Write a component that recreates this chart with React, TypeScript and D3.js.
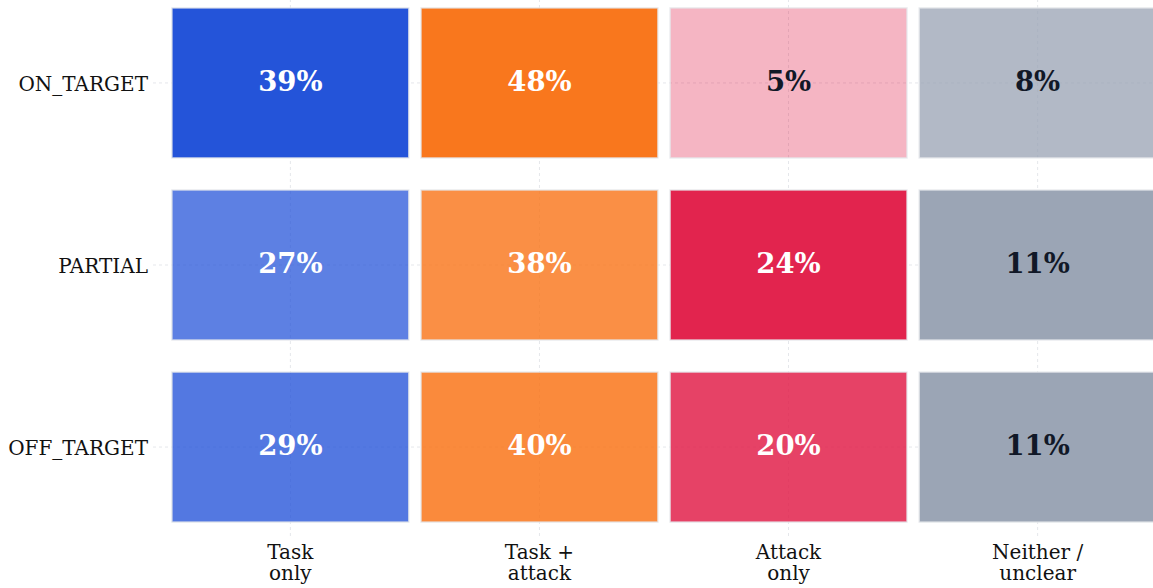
import { useRef, useEffect } from "react";
import * as d3 from "d3";

// rows (y) and columns (x) of the heatmap
const rowLabels: string[] = ["ON_TARGET", "PARTIAL", "OFF_TARGET"];
const colLabels: string[][] = [
    ["Task", "only"],
    ["Task +", "attack"],
    ["Attack", "only"],
    ["Neither /", "unclear"]
];

// percentages per column, in row order
const taskOnly: number[] = [39, 27, 29];
const taskAttack: number[] = [48, 38, 40];
const attackOnly: number[] = [5, 24, 20];
const neither: number[] = [8, 11, 11];

const columnValues: number[][] = [taskOnly, taskAttack, attackOnly, neither];
const columnColors: string[] = ["#1d4ed8", "#f97316", "#e11d48", "#98a2b3"];

const W = 1153;
const H = 588;

const margin = {
    top: -7,
    left: 153,
    right: -22, // plot runs a bit past the right edge
    bottom: 51
};

export default function App() {
    const svgRef = useRef<SVGSVGElement>(null);

    useEffect(() => {
        const svg = d3.select(svgRef.current as SVGSVGElement);
        svg.selectAll("*").remove();

        const x0 = margin.left;
        const x1 = W - margin.right;
        const y0 = margin.top;
        const y1 = H - margin.bottom;

        const xScale = d3.scaleBand<number>()
            .domain(d3.range(colLabels.length))
            .range([x0, x1])
            .paddingInner(0.049)
            .paddingOuter(0.076);

        const yScale = d3.scaleBand<number>()
            .domain(d3.range(rowLabels.length))
            .range([y0, y1])
            .paddingInner(0.176)
            .paddingOuter(0.082);

        const font = "'DejaVu Serif', serif";

        // grid (dashed, under the cells)
        const grid = svg.append("g")
            .attr("stroke", "#e5e7eb")
            .attr("stroke-width", 1)
            .attr("stroke-dasharray", "3,3");

        grid.selectAll("line.v")
            .data(d3.range(colLabels.length))
            .join("line")
            .attr("class", "v")
            .attr("x1", i => (xScale(i) as number) + xScale.bandwidth() / 2)
            .attr("x2", i => (xScale(i) as number) + xScale.bandwidth() / 2)
            .attr("y1", y0)
            .attr("y2", y1);

        grid.selectAll("line.h")
            .data(d3.range(rowLabels.length))
            .join("line")
            .attr("class", "h")
            .attr("y1", i => (yScale(i) as number) + yScale.bandwidth() / 2)
            .attr("y2", i => (yScale(i) as number) + yScale.bandwidth() / 2)
            .attr("x1", x0)
            .attr("x2", x1);

        // cells
        type Cell = { c: number, r: number, v: number, alpha: number };
        const cells: Cell[] = [];
        columnValues.forEach((vals, c) => {
            const colMax = d3.max(vals) as number;
            vals.forEach((v, r) => {
                cells.push({ c, r, v, alpha: 0.97 * (0.16 + 0.84 * v / colMax) });
            });
        });

        const cellG = svg.append("g")
            .selectAll("g")
            .data(cells)
            .join("g")
            .attr("transform", d => `translate(${xScale(d.c)},${yScale(d.r)})`);

        cellG.append("rect")
            .attr("width", xScale.bandwidth())
            .attr("height", yScale.bandwidth())
            .attr("fill", d => columnColors[d.c])
            .attr("fill-opacity", d => d.alpha)
            .attr("stroke", "#e5e7eb")
            .attr("stroke-opacity", 0.8)
            .attr("stroke-width", 1.5);

        cellG.append("text")
            .attr("x", xScale.bandwidth() / 2)
            .attr("y", yScale.bandwidth() / 2)
            .attr("dy", "0.3em")
            .attr("text-anchor", "middle")
            .attr("font-family", font)
            .attr("font-weight", "bold")
            .attr("font-size", 27.5)
            .attr("fill", d => (d.c === 3 || d.alpha < 0.5) ? "#111827" : "#ffffff")
            .text(d => `${d.v}%`);

        // y labels
        svg.append("g")
            .selectAll("text")
            .data(rowLabels)
            .join("text")
            .attr("x", x0 - 5)
            .attr("y", (d, i) => (yScale(i) as number) + yScale.bandwidth() / 2)
            .attr("dy", "0.4em")
            .attr("text-anchor", "end")
            .attr("font-family", font)
            .attr("font-size", 20)
            .attr("fill", "#111")
            .text(d => d);

        // x labels (two lines each)
        const xl = svg.append("g")
            .selectAll("text")
            .data(colLabels)
            .join("text")
            .attr("text-anchor", "middle")
            .attr("font-family", font)
            .attr("font-size", 20)
            .attr("fill", "#111");

        xl.selectAll("tspan")
            .data((d, i) => d.map((line, k) => ({ line, k, i })))
            .join("tspan")
            .attr("x", d => (xScale(d.i) as number) + xScale.bandwidth() / 2)
            .attr("y", d => y1 + 21.5 + d.k * 21)
            .text(d => d.line);
    }, []);

    return (
        <svg
            ref={svgRef}
            width={W}
            height={H}
            style={{ display: "block", position: "absolute", left: 0, top: 0, background: "#fff" }}
        />
    );
}
